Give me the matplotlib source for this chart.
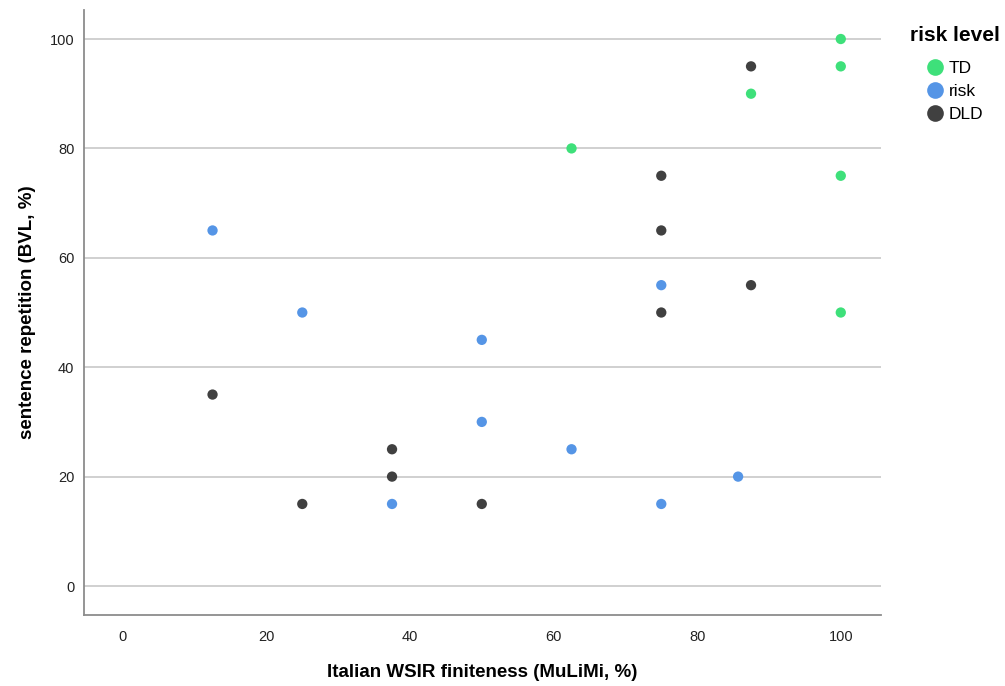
import matplotlib
matplotlib.use('Agg')
from matplotlib import pyplot as plt
from matplotlib.lines import Line2D

plt.rcParams['font.family'] = ['Liberation Sans', 'DejaVu Sans']

groups = ['TD', 'risk', 'DLD']
colors = {'TD': '#3ee07a', 'risk': '#5595e6', 'DLD': '#404040'}

td_x = [100, 100, 87.5, 62.5, 100, 100]
td_y = [100, 95, 90, 80, 75, 50]

risk_x = [12.5, 25, 50, 75, 50, 62.5, 85.7, 37.5, 75]
risk_y = [65, 50, 45, 55, 30, 25, 20, 15, 15]

dld_x = [87.5, 75, 75, 87.5, 75, 12.5, 37.5, 37.5, 25, 50]
dld_y = [95, 75, 65, 55, 50, 35, 25, 20, 15, 15]

data = {'TD': (td_x, td_y), 'risk': (risk_x, risk_y), 'DLD': (dld_x, dld_y)}

fig = plt.figure(figsize=(10.05, 6.86), dpi=100)
ax = fig.add_axes([0.0836, 0.1035, 0.7930, 0.8819])

for g in groups:
    xs, ys = data[g]
    ax.scatter(xs, ys, s=55, color=colors[g], edgecolors='none', zorder=3)

ax.set_xlim(-5.4, 105.6)
ax.set_ylim(-5.3, 105.3)
ax.set_xticks(range(0, 101, 20))
ax.set_yticks(range(0, 101, 20))
ax.yaxis.grid(True, color='#c8c8c8', linewidth=1.2)
ax.set_axisbelow(True)
ax.tick_params(length=0, labelsize=10.5, colors='#222222')
ax.tick_params(axis='y', pad=7)
ax.tick_params(axis='x', pad=11)
for side in ('top', 'right'):
    ax.spines[side].set_visible(False)
for side in ('left', 'bottom'):
    ax.spines[side].set_color('#8c8c8c')
    ax.spines[side].set_linewidth(1.3)

ax.set_xlabel('Italian WSIR finiteness (MuLiMi, %)', fontsize=13.5, fontweight='bold', labelpad=14)
ax.set_ylabel('sentence repetition (BVL, %)', fontsize=13.5, fontweight='bold', labelpad=10)

# legend title drawn separately so the markers sit indented under it
fig.text(0.905, 0.948, 'risk level', fontsize=15, fontweight='bold', va='center', ha='left')
handles = [Line2D([], [], marker='o', linestyle='none', markersize=12,
                  markerfacecolor=colors[g], markeredgecolor='none') for g in groups]
leg = fig.legend(handles, groups, loc='upper left', bbox_to_anchor=(0.906, 0.929),
                 frameon=False, fontsize=12.5, handletextpad=0.1,
                 labelspacing=0.45, borderpad=0.2, handlelength=1.4)

fig.savefig('out.png', dpi=100)
